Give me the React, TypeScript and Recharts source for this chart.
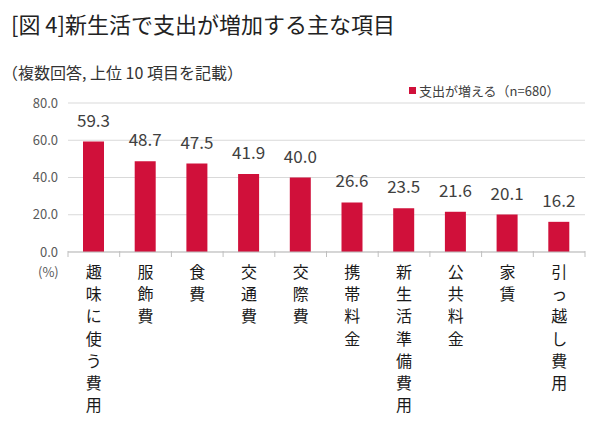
import React from "react";
import {
  BarChart,
  Bar,
  XAxis,
  YAxis,
  CartesianGrid,
  Legend,
  LabelList,
} from "recharts";

const categories = [
  "趣味に使う費用",
  "服飾費",
  "食費",
  "交通費",
  "交際費",
  "携帯料金",
  "新生活準備費用",
  "公共料金",
  "家賃",
  "引っ越し費用",
];
const increaseValues = [59.3, 48.7, 47.5, 41.9, 40.0, 26.6, 23.5, 21.6, 20.1, 16.2];
const yTicks = [0, 20, 40, 60, 80];

const seriesName = "支出が増える（n=680）";
const FONT = '"Noto Sans CJK JP", "Noto Sans", sans-serif';
const RED = "#d0103a";
const PLOT_LEFT = 68;
const PLOT_RIGHT = 585;
const BAND = (PLOT_RIGHT - PLOT_LEFT) / categories.length;

const data = categories.map((name, i) => ({ name, value: increaseValues[i] }));

function VerticalTick(props: any) {
  const { x, y, payload, index } = props;
  const chars = Array.from(String(payload.value));
  const last = index === categories.length - 1;
  return (
    <g>
      <line x1={x - BAND / 2} x2={x - BAND / 2} y1={y - 1} y2={y + 5} stroke="#bfbfbf" />
      {last && (
        <line x1={x + BAND / 2} x2={x + BAND / 2} y1={y - 1} y2={y + 5} stroke="#bfbfbf" />
      )}
      {chars.map((c, i) => (
        <text
          key={i}
          x={x}
          y={y + 26 + i * 22.2}
          textAnchor="middle"
          fontSize={16}
          fill="#1a1a1a"
          fontFamily={FONT}
        >
          {c}
        </text>
      ))}
    </g>
  );
}

function LegendContent() {
  return (
    <div style={{ display: "flex", alignItems: "center", fontFamily: FONT, fontSize: 13, color: "#404040", whiteSpace: "nowrap" }}>
      <span style={{ display: "inline-block", width: 7, height: 7, background: RED, marginRight: 3 }} />
      {seriesName}
    </div>
  );
}

export default function App() {
  return (
    <div style={{ position: "absolute", left: 0, top: 0, width: 600, height: 431, background: "#fff", fontFamily: FONT }}>
      <div style={{ position: "absolute", left: 11, top: 8, fontSize: 22, color: "#222", whiteSpace: "nowrap", lineHeight: "30px" }}>
        [図 4]新生活で支出が増加する主な項目
      </div>
      <div style={{ position: "absolute", left: 2, top: 60, fontSize: 16, color: "#333", whiteSpace: "nowrap", lineHeight: "24px" }}>
        （複数回答, 上位 10 項目を記載）
      </div>
      <div style={{ position: "absolute", left: 38, top: 262, fontSize: 13, color: "#595959" }}>(%)</div>
      <BarChart
        width={600}
        height={431}
        data={data}
        margin={{ top: 103, right: 600 - PLOT_RIGHT, left: 8, bottom: 0 }}
        style={{ position: "absolute", left: 0, top: 0 }}
      >
        <CartesianGrid vertical={false} stroke="#d9d9d9" />
        <XAxis
          dataKey="name"
          height={179}
          interval={0}
          tickLine={false}
          tickSize={0}
          tickMargin={0}
          axisLine={{ stroke: "#bfbfbf" }}
          tick={<VerticalTick />}
        />
        <YAxis
          width={60}
          domain={[0, 80]}
          ticks={yTicks}
          axisLine={false}
          tickLine={false}
          tickMargin={4}
          tickFormatter={(v: number) => v.toFixed(1)}
          tick={{ fontSize: 13, fill: "#595959", fontFamily: FONT }}
        />
        <Legend
          layout="vertical"
          verticalAlign="middle"
          align="center"
          content={<LegendContent />}
          wrapperStyle={{ position: "absolute", top: 81, left: 409, width: "auto" }}
        />
        <Bar dataKey="value" name={seriesName} fill={RED} barSize={21} isAnimationActive={false}>
          <LabelList
            dataKey="value"
            position="top"
            offset={15}
            formatter={(v: any) => Number(v).toFixed(1)}
            style={{ fontSize: 17, fill: "#404040", fontFamily: FONT }}
          />
        </Bar>
      </BarChart>
    </div>
  );
}
